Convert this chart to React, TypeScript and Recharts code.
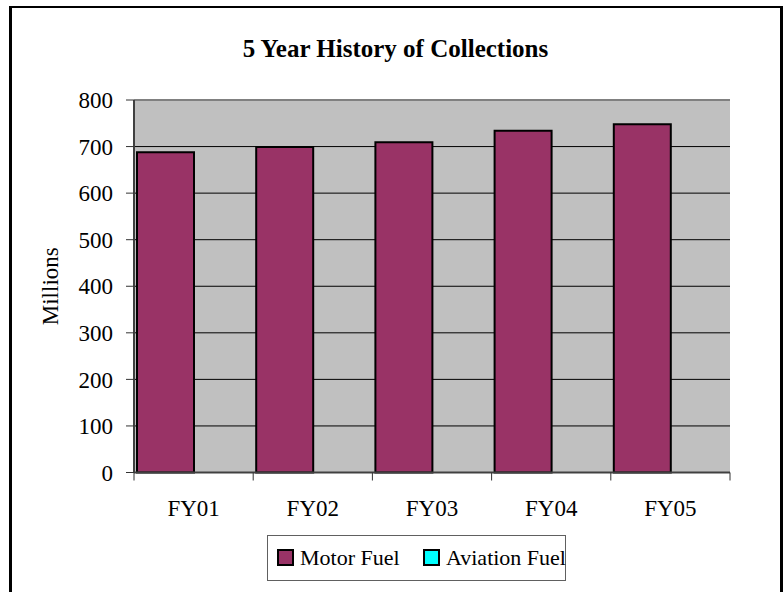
import { BarChart, Bar, XAxis, YAxis, CartesianGrid, ReferenceLine } from 'recharts';

const categories = ['FY01', 'FY02', 'FY03', 'FY04', 'FY05'];
const motorFuel = [688, 699, 709, 734, 748];
const aviationFuel = [0, 0, 0, 0, 0];
const yTicks = [0, 100, 200, 300, 400, 500, 600, 700, 800];

const data = categories.map((fy, i) => ({
  fy,
  motor: motorFuel[i],
  aviation: aviationFuel[i],
}));

const FONT = 'Liberation Serif';
const W = 784;
const H = 592;
const PLOT_LEFT = 134;
const PLOT_RIGHT = 730;
const PLOT_TOP = 100;
const PLOT_BOTTOM = 472.5;
const BAND = (PLOT_RIGHT - PLOT_LEFT) / categories.length;

const XTick = ({ x, payload, index }: any) => (
  <g>
    {index === 0 && (
      <line x1={x - BAND / 2} x2={x - BAND / 2} y1={PLOT_BOTTOM} y2={PLOT_BOTTOM + 8} stroke="#333" />
    )}
    <line x1={x + BAND / 2} x2={x + BAND / 2} y1={PLOT_BOTTOM} y2={PLOT_BOTTOM + 8} stroke="#333" />
    <text x={x} y={516} textAnchor="middle" fontSize={23} fontFamily={FONT} fill="#000">
      {payload.value}
    </text>
  </g>
);

const legendItems = [
  { name: 'Motor Fuel', color: '#993366', left: 10 },
  { name: 'Aviation Fuel', color: '#00FFFF', left: 156 },
];

export default function App() {
  return (
    <div
      style={{
        position: 'absolute',
        left: 0,
        top: 0,
        width: W,
        height: H,
        overflow: 'hidden',
        background: '#fff',
      }}
    >
      <div
        style={{
          position: 'absolute',
          left: 9,
          top: 6,
          width: 774,
          height: 600,
          boxSizing: 'border-box',
          borderTop: '2px solid #000',
          borderLeft: '3px solid #000',
          borderRight: '3px solid #000',
        }}
      />
      <div style={{ position: 'absolute', left: 0, top: 0 }}>
        <BarChart
          width={W}
          height={H}
          data={data}
          margin={{ top: PLOT_TOP, right: W - PLOT_RIGHT, bottom: 0, left: 0 }}
          barCategoryGap={3}
          barGap={0}
        >
          <CartesianGrid fill="#C0C0C0" stroke="#000" vertical={false} />
          <XAxis
            dataKey="fy"
            height={H - PLOT_BOTTOM}
            tickLine={false}
            axisLine={{ stroke: '#404040', strokeWidth: 2 }}
            tick={<XTick />}
            interval={0}
          />
          <XAxis xAxisId="edge" type="number" domain={[0, 5]} hide />
          <YAxis
            width={PLOT_LEFT}
            domain={[0, 800]}
            ticks={yTicks}
            interval={0}
            tickSize={8}
            tickMargin={13}
            tickLine={{ stroke: '#333' }}
            axisLine={{ stroke: '#404040', strokeWidth: 2 }}
            tick={{ fontSize: 23, fontFamily: FONT, fill: '#000' }}
            label={({ viewBox }: any) => (
              <text
                x={58}
                y={viewBox.y + viewBox.height / 2}
                transform={`rotate(-90 58 ${viewBox.y + viewBox.height / 2})`}
                textAnchor="middle"
                fontSize={23}
                fontFamily={FONT}
                fill="#000"
              >
                Millions
              </text>
            )}
          />
          <ReferenceLine y={800} stroke="#808080" strokeWidth={2} />
          <ReferenceLine xAxisId="edge" x={5} stroke="#808080" strokeWidth={2} />
          <Bar dataKey="motor" name="Motor Fuel" fill="#993366" stroke="#000" strokeWidth={2} isAnimationActive={false} />
          <Bar dataKey="aviation" name="Aviation Fuel" fill="#00FFFF" stroke="#000" strokeWidth={2} isAnimationActive={false} />
        </BarChart>
      </div>
      {/* title and legend, drawn in svg over the chart */}
      <svg
        width={W}
        height={H}
        style={{ position: 'absolute', left: 0, top: 0, pointerEvents: 'none' }}
      >
        <text
          x={395.5}
          y={57}
          textAnchor="middle"
          fontSize={25}
          fontWeight="bold"
          fontFamily={FONT}
          fill="#000"
        >
          5 Year History of Collections
        </text>
        <g transform="translate(267, 535)">
          <rect x={0.5} y={0.5} width={298} height={45} fill="#fff" stroke="#606060" />
          {legendItems.map((item) => (
            <g key={item.name}>
              <rect x={item.left + 1} y={15} width={15} height={15} fill={item.color} stroke="#000" strokeWidth={2} />
              <text x={item.left + 23} y={30} fontSize={22} fontFamily={FONT} fill="#000">
                {item.name}
              </text>
            </g>
          ))}
        </g>
      </svg>
    </div>
  );
}
